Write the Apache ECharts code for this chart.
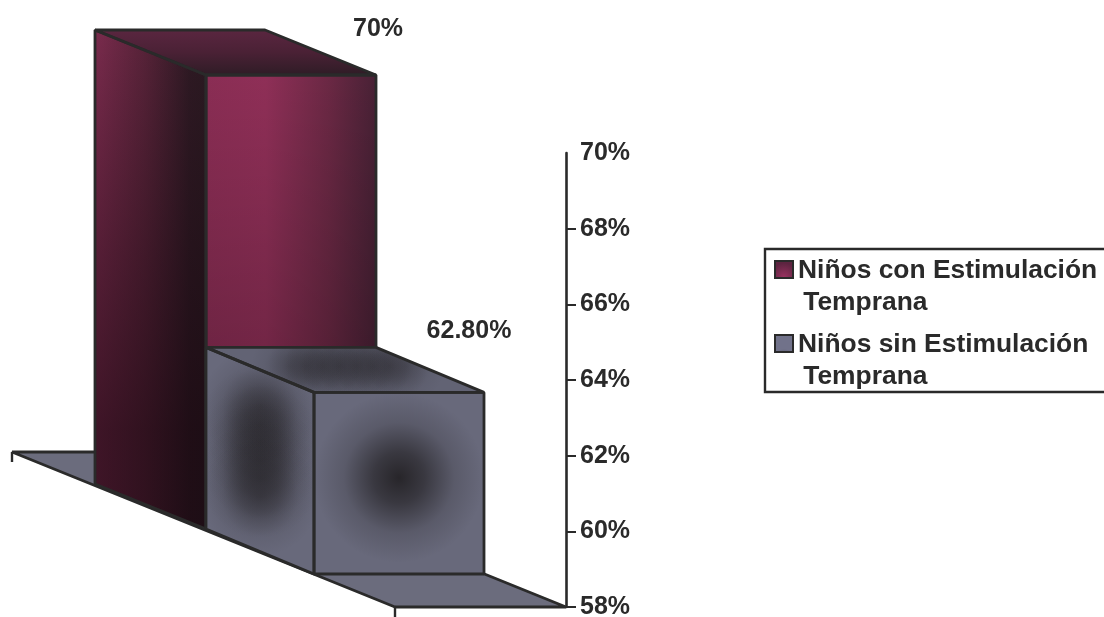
<!DOCTYPE html>
<html>
<head>
<meta charset="utf-8">
<style>html,body{margin:0;padding:0;background:#fff;overflow:hidden}#chart{width:1104px;height:617px}</style>
<script src="https://cdn.jsdelivr.net/npm/echarts@6/dist/echarts.min.js"></script>
</head>
<body>
<div id="chart"></div>
<script>
// Stimulation study: share of children per group, drawn as two bars in depth.
const categories = [''];
const seriesNames = ['Niños con Estimulación Temprana', 'Niños sin Estimulación Temprana'];
const conValues = [70];
const sinValues = [62.8];
const valueLabels = ['70%', '62.80%'];
const axisTicks = [58, 60, 62, 64, 66, 68];

const INK = '#2a2a2a';
const FONT_FAMILY = '"Liberation Sans", Arial, sans-serif';
const FONT = 'bold 25px ' + FONT_FAMILY;
const linear = (x0, y0, x1, y1, stops) => new echarts.graphic.LinearGradient(
  x0, y0, x1, y1, stops.map(c => ({offset: c[0], color: c[1]})));
const radial = (x, y, r, stops) => new echarts.graphic.RadialGradient(
  x, y, r, stops.map(c => ({offset: c[0], color: c[1]})));

// Soft dark patch used to build up the shading on the slate faces.
const patch = (x, y, r, alpha) => radial(x, y, r, [
  [0, `rgba(38,36,40,${alpha})`],
  [0.3, `rgba(38,36,40,${alpha * 0.72})`],
  [0.65, `rgba(38,36,40,${alpha * 0.22})`],
  [1, 'rgba(38,36,40,0)']
]);

const wine = {
  front: [
    linear(0, 0, 1, 0, [[0, '#8a2d54'], [0.35, '#8f2f57'], [0.72, '#6b2844'], [1, '#482135']]),
    linear(0, 0, 0, 1, [[0, 'rgba(0,0,0,0)'], [0.6, 'rgba(0,0,0,0.2)'], [1, 'rgba(0,0,0,0.28)']])
  ],
  side: [
    linear(0, 0, 1, 0, [[0, '#7a2b4d'], [0.45, '#582339'], [0.85, '#2f1a24'], [1, '#2c1a22']]),
    linear(0, 0, 0, 1, [[0, 'rgba(20,5,12,0)'], [0.45, 'rgba(20,5,12,0.35)'], [0.8, 'rgba(20,5,12,0.58)'], [1, 'rgba(20,5,12,0.58)']])
  ],
  top: [
    linear(0, 0, 0, 1, [[0, '#5a2640'], [0.5, '#4a2135'], [1, '#2f1c26']])
  ]
};
const SLATE = '#68697b';
const slate = {
  front: [SLATE, patch(0.5, 0.47, 0.5, 0.98)],
  side: [SLATE,
    patch(0.5, 0.26, 0.55, 0.5), patch(0.5, 0.34, 0.55, 0.5), patch(0.5, 0.42, 0.55, 0.5),
    patch(0.5, 0.5, 0.55, 0.5), patch(0.5, 0.58, 0.55, 0.5), patch(0.5, 0.66, 0.55, 0.5)],
  top: ['#626374',
    patch(0.3, 0.42, 0.85, 0.3), patch(0.36, 0.42, 0.85, 0.4), patch(0.42, 0.42, 0.85, 0.42),
    patch(0.48, 0.42, 0.85, 0.42), patch(0.54, 0.42, 0.85, 0.42), patch(0.6, 0.42, 0.85, 0.42),
    patch(0.66, 0.42, 0.85, 0.4), patch(0.72, 0.42, 0.85, 0.3)]
};

// Offsets of each solid from the corner where the value axis meets the floor.
const BOX_WIDTH = 170;
const boxes = [
  {palette: wine, shift: [-190, -78], depth: [-111, -45], labelAt: [2, -46], label: valueLabels[0]},
  {palette: slate, shift: [-82, -33], depth: [-108, -45], labelAt: [-15, -61], label: valueLabels[1]}
];

const poly = (points, fill, edge) => ({
  type: 'polygon',
  shape: {points},
  style: {fill, stroke: edge ? INK : null, lineWidth: edge ? 2.8 : 0, lineJoin: 'bevel'}
});
const layers = (points, fills) => fills.map(f => poly(points, f));

function drawBox(box, params, api) {
  const sys = params.coordSys;
  const xEnd = sys.x + sys.width;
  const yBase = api.coord([0, 58])[1];
  const yTop = api.coord([0, api.value(1)])[1];
  const rx = xEnd + box.shift[0];
  const lx = rx - BOX_WIDTH;
  const by = yBase + box.shift[1];
  const ty = yTop + box.shift[1];
  const [dx, dy] = box.depth;
  const front = [[lx, ty], [rx, ty], [rx, by], [lx, by]];
  const side = [[lx + dx, ty + dy], [lx, ty], [lx, by], [lx + dx, by + dy]];
  const top = [[lx + dx, ty + dy], [rx + dx, ty + dy], [rx, ty], [lx, ty]];
  const p = box.palette;
  const children = [
    ...layers(side, p.side), ...layers(top, p.top), ...layers(front, p.front),
    poly(side, 'transparent', true), poly(top, 'transparent', true), poly(front, 'transparent', true),
    {
      type: 'text',
      x: rx + box.labelAt[0],
      y: ty + box.labelAt[1],
      style: {text: box.label, font: FONT, fill: INK, align: 'center', verticalAlign: 'middle'}
    }
  ];
  return {type: 'group', children};
}

function drawFloor(params, api) {
  const sys = params.coordSys;
  const xEnd = sys.x + sys.width;
  const y = api.coord([0, 58])[1];
  const outline = [[xEnd, y], [xEnd - 171, y], [xEnd - 554, y - 155], [xEnd - 383, y - 155]];
  return {
    type: 'group',
    children: [
      poly(outline, '#6b6c7d', true),
      {type: 'line', shape: {x1: xEnd - 171, y1: y, x2: xEnd - 171, y2: y + 10}, style: {stroke: INK, lineWidth: 2.4}},
      {type: 'line', shape: {x1: xEnd - 554, y1: y - 155, x2: xEnd - 554, y2: y - 145}, style: {stroke: INK, lineWidth: 2.4}}
    ]
  };
}

const chart = echarts.init(document.getElementById('chart'), null, {renderer: 'canvas'});
chart.setOption({
  animation: false,
  backgroundColor: '#fff',
  grid: {left: 12, right: 538, top: 153, bottom: 10, outerBoundsMode: 'none'},
  xAxis: {
    type: 'category', data: categories,
    axisLine: {show: false}, axisTick: {show: false}, axisLabel: {show: false}
  },
  yAxis: {
    type: 'value', position: 'right', min: 58, max: 70, interval: 2,
    splitLine: {show: false},
    axisLine: {show: true, lineStyle: {color: INK, width: 2.6}},
    axisTick: {show: true, length: 10, customValues: axisTicks, lineStyle: {color: INK, width: 2}},
    axisLabel: {
      margin: 14, formatter: '{value}%', color: INK,
      fontFamily: FONT_FAMILY, fontWeight: 'bold', fontSize: 25
    }
  },
  legend: {
    data: seriesNames,
    left: 765, top: 249, orient: 'vertical',
    padding: [5, 60, -2, 9], itemGap: 8, itemWidth: 18, itemHeight: 64,
    icon: 'path://M0 0M0 6H18V23H0ZM0 64',
    borderColor: INK, borderWidth: 2.4, backgroundColor: '#fff', selectedMode: false,
    formatter: name => name.replace(' Temprana', '\n\u2009Temprana'),
    textStyle: {
      color: INK, fontFamily: FONT_FAMILY, fontWeight: 'bold',
      fontSize: 26.4, lineHeight: 32
    }
  },
  series: [
    {
      type: 'custom', name: 'floor', silent: true, z: 1,
      data: [[0, 58]], encode: {x: 0, y: 1},
      renderItem: drawFloor
    },
    {
      type: 'custom', name: seriesNames[0], silent: true, z: 2,
      itemStyle: {color: radial(0.5, 0.35, 0.7, [[0, '#9a3260'], [1, '#5d2440']]), borderColor: INK, borderWidth: 2},
      data: conValues.map((v, i) => [i, v]), encode: {x: 0, y: 1},
      renderItem: (params, api) => drawBox(boxes[0], params, api)
    },
    {
      type: 'custom', name: seriesNames[1], silent: true, z: 3,
      itemStyle: {color: radial(0.5, 0.5, 0.6, [[0, '#3f3f48'], [1, '#71728a']]), borderColor: INK, borderWidth: 2},
      data: sinValues.map((v, i) => [i, v]), encode: {x: 0, y: 1},
      renderItem: (params, api) => drawBox(boxes[1], params, api)
    }
  ]
});
</script>
</body>
</html>
